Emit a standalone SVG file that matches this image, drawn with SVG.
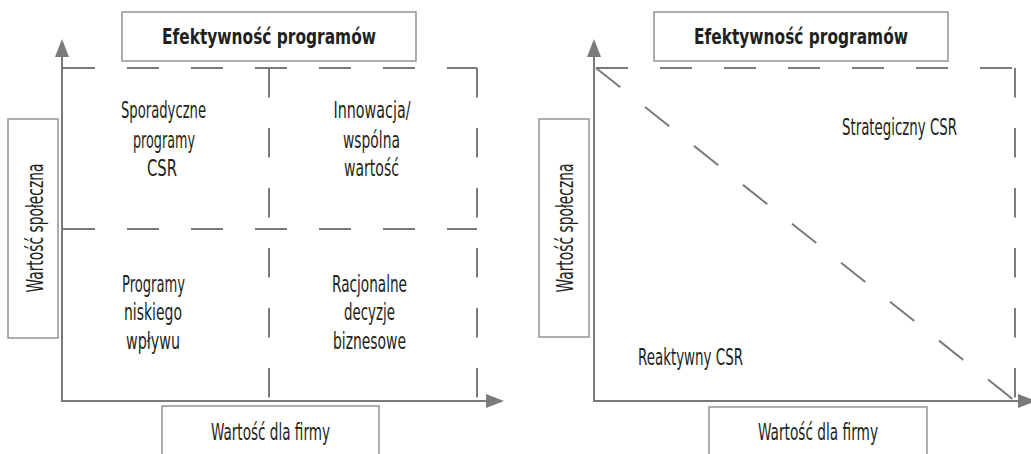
<svg xmlns="http://www.w3.org/2000/svg" width="1031" height="454" viewBox="0 0 1031 454">
<style>
.bg{fill:#ffffff}
.box{fill:#ffffff;stroke:#8c8c8c;stroke-width:1.4}
.axis{stroke:#7a7a7c;stroke-width:2;fill:none}
.dh{stroke:#7a7a7c;stroke-width:2;fill:none;stroke-dasharray:32 32}
.dv{stroke:#7a7a7c;stroke-width:2;fill:none;stroke-dasharray:29.5 30.5}
.dd{stroke:#7a7a7c;stroke-width:2;fill:none;stroke-dasharray:31 31.6}
.t{font-family:"DejaVu Sans Condensed","DejaVu Sans",sans-serif;font-stretch:condensed;font-size:23.5px;fill:#231f20;text-anchor:middle}
.tb{font-family:"DejaVu Sans Condensed","DejaVu Sans",sans-serif;font-stretch:condensed;font-size:20.5px;font-weight:bold;fill:#231f20;text-anchor:middle}
</style>
<defs>
<marker id="ah" viewBox="0 0 18 14" refX="0" refY="7" markerWidth="18" markerHeight="14" markerUnits="userSpaceOnUse" orient="auto">
<path d="M0,0 L18,7 L0,14 z" fill="#7a7a7c"/>
</marker>
</defs>
<rect class="bg" x="0" y="0" width="1031" height="454"/>

<!-- LEFT PANEL -->
<g id="left-connectors">
<line class="dh" x1="63" y1="68" x2="477" y2="68"/>
<line class="dh" x1="63" y1="229" x2="477" y2="229"/>
<line class="dv" x1="477" y1="68" x2="477" y2="401"/>
<line class="dv" x1="269" y1="68" x2="269" y2="401"/>
<line class="axis" x1="62" y1="401" x2="62" y2="57" marker-end="url(#ah)"/>
<line class="axis" x1="61" y1="401" x2="486" y2="401" marker-end="url(#ah)"/>
</g>
<g id="left-title">
<rect class="box" x="122" y="12" width="294" height="49"/>
<text class="tb" x="269" y="44" textLength="214" lengthAdjust="spacingAndGlyphs">Efektywność programów</text>
</g>
<g id="left-yaxis-label">
<rect class="box" x="8" y="119" width="50" height="219"/>
<text class="t" transform="translate(43,228) rotate(-90)" x="0" y="0" textLength="129" lengthAdjust="spacingAndGlyphs">Wartość społeczna</text>
</g>
<g id="left-xaxis-label">
<rect class="box" x="162" y="406" width="217" height="60"/>
<text class="t" x="270.5" y="440" textLength="119" lengthAdjust="spacingAndGlyphs">Wartość dla firmy</text>
</g>
<g id="q-top-left">
<text class="t" x="163.5" y="118" textLength="85" lengthAdjust="spacingAndGlyphs">Sporadyczne</text>
<text class="t" x="164" y="148" textLength="62" lengthAdjust="spacingAndGlyphs">programy</text>
<text class="t" x="162" y="176" textLength="30" lengthAdjust="spacingAndGlyphs">CSR</text>
</g>
<g id="q-top-right">
<text class="t" x="372" y="118" textLength="77" lengthAdjust="spacingAndGlyphs">Innowacja/</text>
<text class="t" x="371.5" y="148" textLength="57" lengthAdjust="spacingAndGlyphs">wspólna</text>
<text class="t" x="371.5" y="176" textLength="55" lengthAdjust="spacingAndGlyphs">wartość</text>
</g>
<g id="q-bottom-left">
<text class="t" x="153.5" y="292" textLength="63" lengthAdjust="spacingAndGlyphs">Programy</text>
<text class="t" x="153" y="320" textLength="58" lengthAdjust="spacingAndGlyphs">niskiego</text>
<text class="t" x="153" y="349" textLength="54" lengthAdjust="spacingAndGlyphs">wpływu</text>
</g>
<g id="q-bottom-right">
<text class="t" x="369.5" y="292" textLength="75" lengthAdjust="spacingAndGlyphs">Racjonalne</text>
<text class="t" x="369.5" y="320" textLength="51" lengthAdjust="spacingAndGlyphs">decyzje</text>
<text class="t" x="369.5" y="349" textLength="73" lengthAdjust="spacingAndGlyphs">biznesowe</text>
</g>

<!-- RIGHT PANEL -->
<g id="right-connectors">
<line class="dh" x1="596" y1="68" x2="1015" y2="68"/>
<line class="dv" x1="1015" y1="68" x2="1015" y2="401"/>
<line class="dd" x1="596" y1="68" x2="1015" y2="401"/>
<line class="axis" x1="594" y1="401" x2="594" y2="57" marker-end="url(#ah)"/>
<line class="axis" x1="593" y1="401" x2="1018" y2="401" marker-end="url(#ah)"/>
</g>
<g id="right-title">
<rect class="box" x="654" y="12" width="294" height="49"/>
<text class="tb" x="801" y="44" textLength="214" lengthAdjust="spacingAndGlyphs">Efektywność programów</text>
</g>
<g id="right-yaxis-label">
<rect class="box" x="539" y="119" width="50" height="218"/>
<text class="t" transform="translate(573,228) rotate(-90)" x="0" y="0" textLength="129" lengthAdjust="spacingAndGlyphs">Wartość społeczna</text>
</g>
<g id="right-xaxis-label">
<rect class="box" x="709" y="407" width="218" height="60"/>
<text class="t" x="818" y="440" textLength="120" lengthAdjust="spacingAndGlyphs">Wartość dla firmy</text>
</g>
<g id="strategic">
<text class="t" x="899.5" y="135" textLength="115" lengthAdjust="spacingAndGlyphs">Strategiczny CSR</text>
</g>
<g id="reactive">
<text class="t" x="690.5" y="365" textLength="105" lengthAdjust="spacingAndGlyphs">Reaktywny CSR</text>
</g>
</svg>
